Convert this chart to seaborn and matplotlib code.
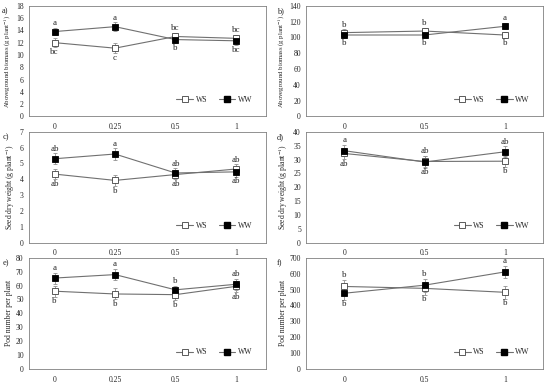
import numpy as np
import pandas as pd
import seaborn as sns
from matplotlib import pyplot as plt
from matplotlib.lines import Line2D

# x categories
x_four = ['0', '0.25', '0.5', '1']
x_three = ['0', '0.5', '1']

# a) aboveground biomass, 4 levels
a_ws = [12.0, 11.1, 13.0, 12.7]
a_ww = [13.8, 14.6, 12.5, 12.3]
a_ws_err = [0.7, 0.8, 0.6, 0.6]
a_ww_err = [0.6, 0.7, 0.6, 0.7]
a_top = ['a', 'a', 'bc', 'bc']
a_bot = ['bc', 'c', 'b', 'bc']

# b) aboveground biomass, 3 levels
b_ws = [106, 108, 103]
b_ww = [103, 103, 114]
b_ws_err = [4, 4, 4]
b_ww_err = [4, 4, 4]
b_top = ['b', 'b', 'a']
b_bot = ['b', 'b', 'b']

# c) seed dry weight, 4 levels
c_ws = [4.33, 3.93, 4.30, 4.65]
c_ww = [5.30, 5.60, 4.40, 4.47]
c_ws_err = [0.32, 0.35, 0.3, 0.3]
c_ww_err = [0.35, 0.35, 0.3, 0.3]
c_top = ['ab', 'a', 'ab', 'ab']
c_bot = ['ab', 'b', 'ab', 'ab']

# d) seed dry weight, 3 levels
d_ws = [32.2, 29.3, 29.4]
d_ww = [33.2, 29.1, 32.8]
d_ws_err = [2.0, 2.0, 2.0]
d_ww_err = [2.0, 2.0, 2.0]
d_top = ['a', 'ab', 'ab']
d_bot = ['ab', 'ab', 'b']

# e) pod number, 4 levels
e_ws = [56.0, 54.0, 53.5, 59.5]
e_ww = [65.5, 68.0, 57.0, 61.0]
e_ws_err = [4, 4, 4, 4]
e_ww_err = [4, 4, 3, 4]
e_top = ['a', 'a', 'b', 'ab']
e_bot = ['b', 'b', 'b', 'ab']

# f) pod number, 3 levels
f_ws = [520, 508, 483]
f_ww = [477, 528, 612]
f_ws_err = [40, 40, 40]
f_ww_err = [40, 40, 40]
f_top = ['b', 'b', 'a']
f_bot = ['b', 'b', 'b']

sns.set_style('white')
plt.rcParams['font.family'] = ['Liberation Serif', 'DejaVu Serif']
plt.rcParams['mathtext.fontset'] = 'stix'
FS = 5.5
LINE_C = '#707070'


def panel(ax, cats, ws, ww, ws_err, ww_err, top, bot, ymax, ystep, ylabel, tag, tag_x, ylab_fs=FS):
    n = len(cats)
    df = pd.DataFrame({
        'x': list(range(n)) * 2,
        'y': ws + ww,
        'treat': ['WS'] * n + ['WW'] * n,
    })
    pos = np.arange(n)
    ax.errorbar(pos, ws, yerr=ws_err, fmt='none', ecolor='#909090',
                elinewidth=0.6, capsize=1.5, capthick=0.6, zorder=1)
    ax.errorbar(pos, ww, yerr=ww_err, fmt='none', ecolor='#909090',
                elinewidth=0.6, capsize=1.5, capthick=0.6, zorder=1)
    sns.lineplot(data=df, x='x', y='y', hue='treat', style='treat',
                 palette={'WS': LINE_C, 'WW': LINE_C},
                 markers={'WS': 's', 'WW': 's'}, dashes=False,
                 linewidth=0.8, markersize=4, legend=False, ax=ax, zorder=3)
    ax.lines[-2].set_markerfacecolor('white')
    ax.lines[-2].set_markeredgecolor('#404040')
    ax.lines[-1].set_markerfacecolor('black')
    ax.lines[-1].set_markeredgecolor('black')
    for line in ax.lines[-2:]:
        line.set_markeredgewidth(0.6)

    for i in range(n):
        hi = max(ws[i] + ws_err[i], ww[i] + ww_err[i])
        lo = min(ws[i] - ws_err[i], ww[i] - ww_err[i])
        ax.annotate(top[i], (i, hi), xytext=(0, 0.5), textcoords='offset points',
                    ha='center', va='bottom', fontsize=FS + 1)
        ax.annotate(bot[i], (i, lo), xytext=(0, -0.5), textcoords='offset points',
                    ha='center', va='top', fontsize=FS + 1)

    if n == 4:
        ax.set_xlim(-0.42, 3.5)
    else:
        ax.set_xlim(-0.47, 2.48)
    ax.set_xticks(pos)
    ax.set_xticklabels(cats)
    ax.set_ylim(0, ymax)
    ax.set_yticks(np.arange(0, ymax + ystep / 2, ystep))
    ax.tick_params(axis='both', labelsize=FS, length=2, width=0.5, pad=2,
                   direction='out')
    ax.tick_params(axis='x', length=0, pad=5)
    ax.set_xlabel('')
    ax.set_ylabel(ylabel, fontsize=ylab_fs, labelpad=2)
    for s in ax.spines.values():
        s.set_color('#808080')
        s.set_linewidth(0.6)

    handles = [
        Line2D([], [], color=LINE_C, lw=0.8, marker='s', markersize=4,
               markerfacecolor='white', markeredgecolor='#404040', markeredgewidth=0.6),
        Line2D([], [], color=LINE_C, lw=0.8, marker='s', markersize=4,
               markerfacecolor='black', markeredgecolor='black'),
    ]
    ax.legend(handles, ['WS', 'WW'], loc='lower right', bbox_to_anchor=(0.97, 0.05),
              ncol=2, frameon=False, fontsize=FS, handlelength=2.2,
              handletextpad=0.3, columnspacing=1.5)
    top_y = ax.get_position().y1
    ax.figure.text(tag_x, top_y - 0.004, tag, fontsize=FS + 0.5, ha='left', va='top')


fig, axes = plt.subplots(3, 2, figsize=(5.5, 3.84), dpi=100)
fig.subplots_adjust(left=0.053, right=0.988, top=0.985, bottom=0.04,
                    wspace=0.17, hspace=0.14)

bio = 'Aboveground biomass (g plant$^{-1}$)'
seed = 'Seed dry weight (g plant$^{-1}$)'
pod = 'Pod number per plant'

lx, rx = 0.004, 0.504
panel(axes[0, 0], x_four, a_ws, a_ww, a_ws_err, a_ww_err, a_top, a_bot, 18, 2, bio, 'a)', lx, 4.9)
panel(axes[0, 1], x_three, b_ws, b_ww, b_ws_err, b_ww_err, b_top, b_bot, 140, 20, bio, 'b)', rx, 4.9)
panel(axes[1, 0], x_four, c_ws, c_ww, c_ws_err, c_ww_err, c_top, c_bot, 7, 1, seed, 'c)', lx)
panel(axes[1, 1], x_three, d_ws, d_ww, d_ws_err, d_ww_err, d_top, d_bot, 40, 5, seed, 'd)', rx)
panel(axes[2, 0], x_four, e_ws, e_ww, e_ws_err, e_ww_err, e_top, e_bot, 80, 10, pod, 'e)', lx)
panel(axes[2, 1], x_three, f_ws, f_ww, f_ws_err, f_ww_err, f_top, f_bot, 700, 100, pod, 'f)', rx)

plt.savefig('out.png', dpi=100)
